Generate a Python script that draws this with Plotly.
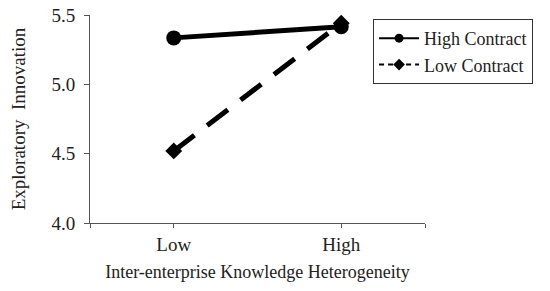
import plotly.graph_objects as go

categories = ["Low", "High"]
high_contract = [5.335, 5.415]
low_contract = [4.52, 5.44]

FONT = "Liberation Serif"
x_pos = list(range(len(categories)))

fig = go.Figure()
fig.add_trace(go.Scatter(
    x=x_pos, y=high_contract, name="High Contract",
    mode="lines+markers", showlegend=False,
    line=dict(color="black", width=5),
    marker=dict(symbol="circle", size=15, color="black"),
    cliponaxis=False,
))
fig.add_trace(go.Scatter(
    x=x_pos, y=low_contract, name="Low Contract",
    mode="lines+markers", showlegend=False,
    line=dict(color="black", width=5, dash="26px,16px"),
    marker=dict(symbol="diamond", size=13, color="black"),
    cliponaxis=False,
))

# legend-only entries with thinner lines / smaller markers, like the original
fig.add_trace(go.Scatter(
    x=[None], y=[None], name="High Contract", mode="lines+markers",
    line=dict(color="black", width=2),
    marker=dict(symbol="circle", size=9, color="black"),
))
fig.add_trace(go.Scatter(
    x=[None], y=[None], name="Low Contract", mode="lines+markers",
    line=dict(color="black", width=2, dash="5px,4px"),
    marker=dict(symbol="diamond", size=9, color="black"),
))

fig.update_layout(
    width=550, height=291,
    paper_bgcolor="white", plot_bgcolor="white",
    margin=dict(l=90, r=125, t=15, b=68, autoexpand=False),
    font=dict(family=FONT, size=18, color="#222"),
    xaxis=dict(
        range=[-0.5, 1.5],
        tickvals=[-0.5, 0, 1, 1.5],
        ticktext=["", "Low", "High", ""],
        showgrid=False, zeroline=False,
        showline=True, linecolor="#555", linewidth=1,
        ticks="outside", ticklen=4, tickcolor="#555",
        tickfont=dict(size=19),
        title=dict(text="Inter-enterprise Knowledge Heterogeneity",
                   font=dict(size=18), standoff=11),
    ),
    yaxis=dict(
        range=[4.0, 5.5], dtick=0.5, tickformat=".1f",
        showgrid=False, zeroline=False,
        showline=True, linecolor="#555", linewidth=1,
        ticks="outside", ticklen=5, tickcolor="#555",
        tickfont=dict(size=19), ticklabelstandoff=5,
        ticklabeloverflow="allow",
        title=dict(text="Exploratory  Innovation", font=dict(size=19), standoff=20),
    ),
    legend=dict(
        x=0.845, y=0.981, xanchor="left", yanchor="top",
        bordercolor="#333", borderwidth=1,
        font=dict(size=18), tracegroupgap=0,
        itemwidth=40,
    ),
)

# drop the default 8px page margin so the figure fills the window
fig.write_html(
    "out.html",
    config={"displayModeBar": False},
    post_script="document.body.style.margin = '0';",
)
